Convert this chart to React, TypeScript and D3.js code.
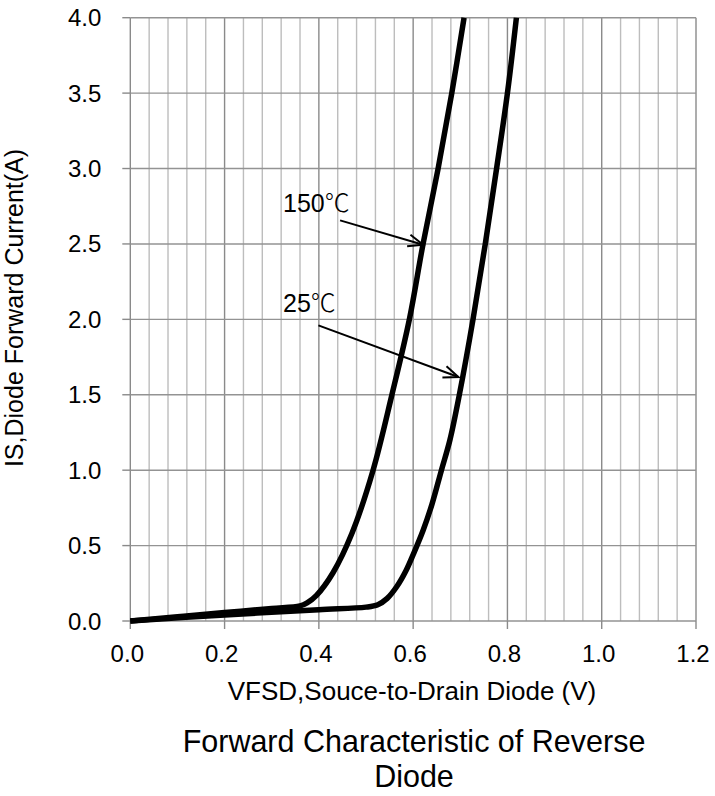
import React, { useRef, useEffect } from "react";
import * as d3 from "d3";

// forward voltage (V) vs diode current (A)
const vf150 = [0, 0.1, 0.2, 0.3, 0.36, 0.375, 0.395, 0.43, 0.47, 0.515, 0.555, 0.592, 0.621, 0.653, 0.682, 0.708];
const is150 = [0, 0.028, 0.056, 0.083, 0.1, 0.12, 0.17, 0.32, 0.58, 1.0, 1.5, 2.0, 2.5, 3.0, 3.5, 4.0];

const vf25 = [0, 0.2, 0.4, 0.5, 0.525, 0.545, 0.565, 0.585, 0.6, 0.621, 0.64, 0.66, 0.678, 0.698, 0.727, 0.753, 0.777, 0.8, 0.819];
const is25 = [0, 0.04, 0.075, 0.092, 0.108, 0.15, 0.227, 0.335, 0.44, 0.6, 0.775, 1.0, 1.2, 1.5, 2.0, 2.5, 3.0, 3.5, 4.0];

const xTicks = [0, 0.2, 0.4, 0.6, 0.8, 1.0, 1.2];
const yTicks = [0, 0.5, 1.0, 1.5, 2.0, 2.5, 3.0, 3.5, 4.0];

// label text, label anchor (data), arrow from -> to (data)
const notes = [
    { text: "150", tx: 0.324, ty: 2.709, x1: 0.445, y1: 2.656, x2: 0.621, y2: 2.495 },
    { text: "25", tx: 0.324, ty: 2.046, x1: 0.399, y1: 1.96, x2: 0.696, y2: 1.618 },
];

const W = 715, H = 796;
const FONT = "'Liberation Sans', Arial, sans-serif";

export default function App() {
    const ref = useRef(null);

    useEffect(() => {
        const svg = d3.select(ref.current);
        svg.selectAll("*").remove();

        const x = d3.scaleLinear().domain([0, 1.2]).range([130.3, 696]);
        const y = d3.scaleLinear().domain([0, 4]).range([621, 17.7]);

        svg.append("rect").attr("width", W).attr("height", H).style("fill", "#fff");

        // vertical grid, minor every 0.04, major every 0.2
        const minor = d3.range(0, 31).map(i => i * 0.04);
        svg.selectAll(".vg")
            .data(minor)
            .enter()
            .append("line")
                .attr("x1", d => x(d)).attr("x2", d => x(d))
                .attr("y1", y(0)).attr("y2", y(4))
                .style("stroke", (d, i) => (i % 5 === 0 ? "#8a8a8a" : "#bdbdbd"))
                .style("stroke-width", 1.4);

        svg.selectAll(".hg")
            .data(yTicks)
            .enter()
            .append("line")
                .attr("x1", x(0)).attr("x2", x(1.2))
                .attr("y1", d => y(d)).attr("y2", d => y(d))
                .style("stroke", "#939393")
                .style("stroke-width", 1.4);

        // tick marks
        svg.selectAll(".yt")
            .data(yTicks)
            .enter()
            .append("line")
                .attr("x1", x(0) - 8).attr("x2", x(0))
                .attr("y1", d => y(d)).attr("y2", d => y(d))
                .style("stroke", "#8a8a8a").style("stroke-width", 1.4);

        svg.selectAll(".xt")
            .data(xTicks)
            .enter()
            .append("line")
                .attr("x1", d => x(d)).attr("x2", d => x(d))
                .attr("y1", y(0)).attr("y2", y(0) + 8)
                .style("stroke", "#8a8a8a").style("stroke-width", 1.4);

        const fmt = d3.format(".1f");

        svg.selectAll(".yl")
            .data(yTicks)
            .enter()
            .append("text")
                .attr("x", x(0) - 29)
                .attr("y", d => y(d) + 8.5)
                .attr("text-anchor", "end")
                .style("font-family", FONT).style("font-size", "24px")
                .text(d => fmt(d));

        svg.selectAll(".xl")
            .data(xTicks)
            .enter()
            .append("text")
                .attr("x", d => x(d) - 3)
                .attr("y", 662)
                .attr("text-anchor", "middle")
                .style("font-family", FONT).style("font-size", "24px")
                .text(d => fmt(d));

        // curves
        const line = d3.line().x(d => x(d[0])).y(d => y(d[1])).curve(d3.curveCatmullRom.alpha(0.5));
        const series = [d3.zip(vf150, is150), d3.zip(vf25, is25)];
        svg.selectAll(".curve")
            .data(series)
            .enter()
            .append("path")
                .attr("d", d => line(d))
                .style("fill", "none")
                .style("stroke", "#000")
                .style("stroke-width", 5.5)
                .style("stroke-linejoin", "round");

        // annotations
        notes.forEach(n => {
            const t = svg.append("text")
                .attr("x", x(n.tx)).attr("y", y(n.ty))
                .style("font-family", FONT).style("font-size", "25px");
            t.append("tspan").text(n.text);
            t.append("tspan")
                .style("font-family", "'Noto Sans CJK SC', 'DejaVu Serif', serif")
                .style("font-weight", 300)
                .text("\u2103");

            const x1 = x(n.x1), y1 = y(n.y1), x2 = x(n.x2), y2 = y(n.y2);
            svg.append("line")
                .attr("x1", x1).attr("y1", y1).attr("x2", x2).attr("y2", y2)
                .style("stroke", "#000").style("stroke-width", 2);
            const a = Math.atan2(y2 - y1, x2 - x1);
            const L = 16, s = 0.38;
            const p1 = [x2 - L * Math.cos(a - s), y2 - L * Math.sin(a - s)];
            const p2 = [x2 - L * Math.cos(a + s), y2 - L * Math.sin(a + s)];
            svg.append("path")
                .attr("d", `M${p1[0]},${p1[1]}L${x2},${y2}L${p2[0]},${p2[1]}`)
                .style("fill", "none").style("stroke", "#000").style("stroke-width", 2);
        });

        // axis titles
        svg.append("text")
            .attr("x", 412).attr("y", 700)
            .attr("text-anchor", "middle")
            .style("font-family", FONT).style("font-size", "26px")
            .text("VFSD,Souce-to-Drain Diode (V)");

        svg.append("text")
            .attr("transform", "translate(23,308) rotate(-90)")
            .attr("text-anchor", "middle")
            .style("font-family", FONT).style("font-size", "25px")
            .text("IS,Diode Forward Current(A)");

        svg.append("text")
            .attr("x", 414).attr("y", 752)
            .attr("text-anchor", "middle")
            .style("font-family", FONT).style("font-size", "30.5px")
            .text("Forward Characteristic of Reverse");
        svg.append("text")
            .attr("x", 414).attr("y", 787)
            .attr("text-anchor", "middle")
            .style("font-family", FONT).style("font-size", "30.5px")
            .text("Diode");
    }, []);

    return (
        <div style={{ position: "absolute", left: 0, top: 0 }}>
            <svg ref={ref} width={W} height={H} style={{ display: "block" }}></svg>
        </div>
    );
}
